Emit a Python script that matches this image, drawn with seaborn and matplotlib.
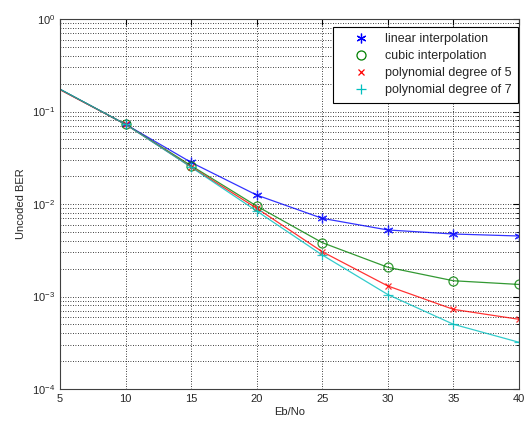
import numpy as np
import pandas as pd
import seaborn as sns
import matplotlib
matplotlib.use("Agg")
from matplotlib import pyplot as plt
from matplotlib.lines import Line2D
from matplotlib.ticker import LogLocator, NullFormatter

# data
ebno = [5, 10, 15, 20, 25, 30, 35, 40]
ber_linear = [0.174, 0.0727, 0.0282, 0.0125, 0.0070, 0.00524, 0.00474, 0.00451]
ber_cubic = [0.174, 0.0727, 0.0260, 0.0095, 0.00382, 0.00207, 0.00148, 0.00135]
ber_poly5 = [0.172, 0.0727, 0.0252, 0.0090, 0.00305, 0.00130, 0.000726, 0.000567]
ber_poly7 = [0.174, 0.0727, 0.0250, 0.0084, 0.00281, 0.00105, 0.000501, 0.00032]

labels = ["linear interpolation", "cubic interpolation",
          "polynomial degree of 5", "polynomial degree of 7"]
colors = ["#0000ff", "#008000", "#ff0000", "#00bfbf"]
markers = [(6, 2, 0), "o", "x", "+"]
msizes = [7, 6.5, 4, 7]

sns.set_style("white")
plt.rcParams["font.family"] = ["Liberation Sans", "DejaVu Sans"]
plt.rcParams["mathtext.fontset"] = "custom"
plt.rcParams["mathtext.rm"] = "Liberation Sans"

fig = plt.figure(figsize=(5.29, 4.23), dpi=100)
ax = fig.add_axes([0.1134, 0.0804, 0.8676, 0.8746])

series = [ber_linear, ber_cubic, ber_poly5, ber_poly7]
for vals, lab, c, m, ms in zip(series, labels, colors, markers, msizes):
    df = pd.DataFrame({"Eb/No": ebno, "BER": vals})
    sns.lineplot(data=df, x="Eb/No", y="BER", ax=ax, color=c, marker=m,
                 markersize=ms, markevery=list(range(1, len(ebno))),
                 markerfacecolor="none" if m == "o" else c,
                 markeredgecolor=c, markeredgewidth=0.9,
                 linewidth=0.9, alpha=0.8)

ax.set_yscale("log")
ax.set_xlim(5, 40)
ax.set_ylim(1e-4, 1)
ax.set_xticks(range(5, 41, 5))
ax.yaxis.set_major_locator(LogLocator(base=10, numticks=10))
ax.yaxis.set_minor_locator(LogLocator(base=10, subs=np.arange(2, 10), numticks=10))
ax.yaxis.set_minor_formatter(NullFormatter())
dots = (0, (1, 2))
ax.grid(True, which="major", linestyle=dots, color="black", linewidth=0.6)
ax.grid(True, which="minor", axis="y", linestyle=dots, color="black", linewidth=0.6)
ax.set_axisbelow(True)
ax.tick_params(which="both", direction="in", top=True, right=True,
               labelsize=8, color="black")
ax.tick_params(which="major", length=4)
ax.tick_params(which="minor", length=2)
for sp in ax.spines.values():
    sp.set_color("#404040")
    sp.set_linewidth(0.8)

ax.set_xlabel("Eb/No", fontsize=8, labelpad=2)
ax.set_ylabel("Uncoded BER", fontsize=8, labelpad=4)

handles = [Line2D([], [], linestyle="none", marker=m, color=c,
                  markerfacecolor="none" if m == "o" else c,
                  markeredgewidth=0.9, markersize=ms)
           for m, c, ms in zip(markers, colors, msizes)]
leg = ax.legend(handles, labels, loc="upper right", bbox_to_anchor=(0.998, 0.978),
                fontsize=9, frameon=True, fancybox=False, borderaxespad=0,
                handletextpad=0.2, borderpad=0.5, labelspacing=0.4,
                handlelength=3.5)
leg.get_frame().set_edgecolor("black")
leg.get_frame().set_linewidth(0.8)
leg.get_frame().set_alpha(1)

fig.savefig("out.png", dpi=100, facecolor="white")
